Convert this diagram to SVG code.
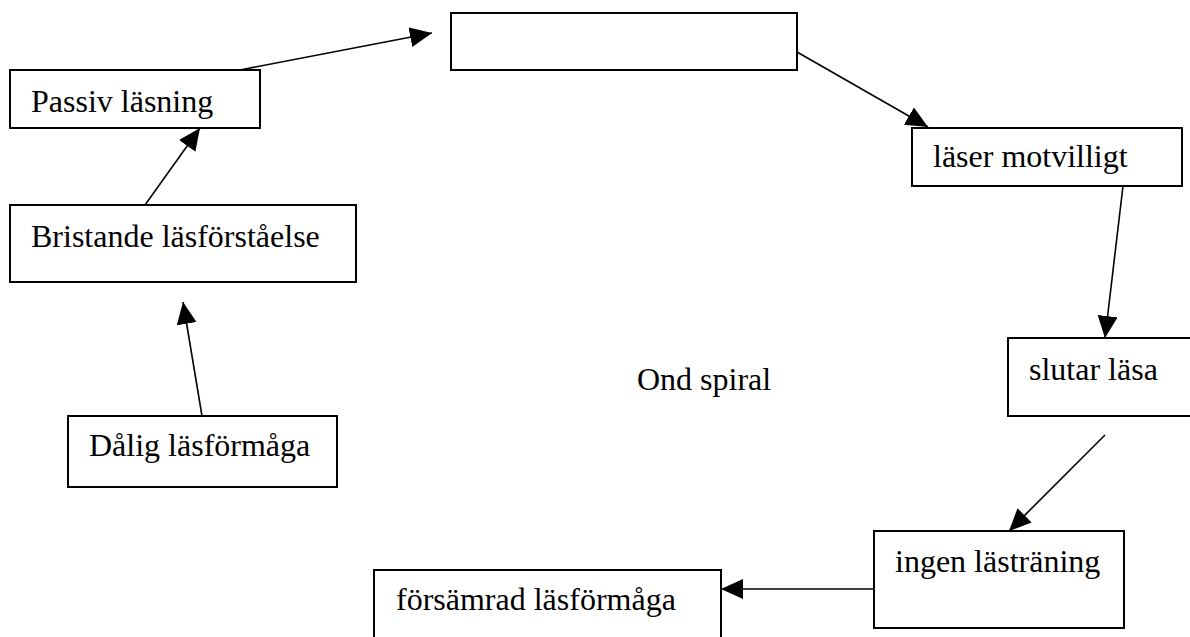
<svg xmlns="http://www.w3.org/2000/svg" width="1190" height="637" viewBox="0 0 1190 637">
<style>
.box{fill:#fff;stroke:#000;stroke-width:2}
.lbl{font-family:"Liberation Serif","Times New Roman",serif;font-size:32px;fill:#000}
.conn line{stroke:#000;stroke-width:1.6;marker-end:url(#ah)}
</style>
<defs>
<marker id="ah" markerUnits="userSpaceOnUse" markerWidth="24" markerHeight="22" refX="22" refY="10" orient="auto">
<path d="M0,0 L22,10 L0,20 z" fill="#000"/>
</marker>
</defs>
<rect width="1190" height="637" fill="#fff"/>
<g id="n-top"><rect class="box" x="451" y="13" width="346" height="57"/></g>
<g id="n-passiv"><rect class="box" x="10" y="70" width="250" height="58"/><text class="lbl" x="31" y="112">Passiv läsning</text></g>
<g id="n-bristande"><rect class="box" x="10" y="205" width="346" height="77"/><text class="lbl" x="31" y="247">Bristande läsförståelse</text></g>
<g id="n-dalig"><rect class="box" x="68" y="416" width="269" height="71"/><text class="lbl" x="89" y="456">Dålig läsförmåga</text></g>
<g id="n-laser"><rect class="box" x="912" y="128" width="270" height="58"/><text class="lbl" x="933" y="167">läser motvilligt</text></g>
<g id="n-slutar"><rect class="box" x="1008" y="338" width="190" height="78"/><text class="lbl" x="1029" y="380">slutar läsa</text></g>
<g id="n-ingen"><rect class="box" x="874" y="531" width="250" height="97"/><text class="lbl" x="895" y="572">ingen lästräning</text></g>
<g id="n-forsamrad"><rect class="box" x="374" y="570" width="347" height="80"/><text class="lbl" x="396" y="610">försämrad läsförmåga</text></g>
<g id="t-ond"><text class="lbl" x="637" y="390">Ond spiral</text></g>
<g class="conn" id="connectors">
<line x1="240" y1="70" x2="432" y2="33"/>
<line x1="797" y1="52" x2="928" y2="127"/>
<line x1="1123" y1="186" x2="1105" y2="338"/>
<line x1="1105" y1="435" x2="1009" y2="531"/>
<line x1="874" y1="589" x2="721" y2="589"/>
<line x1="202" y1="416" x2="183" y2="302"/>
<line x1="145" y1="205" x2="200" y2="128"/>
</g>
</svg>
